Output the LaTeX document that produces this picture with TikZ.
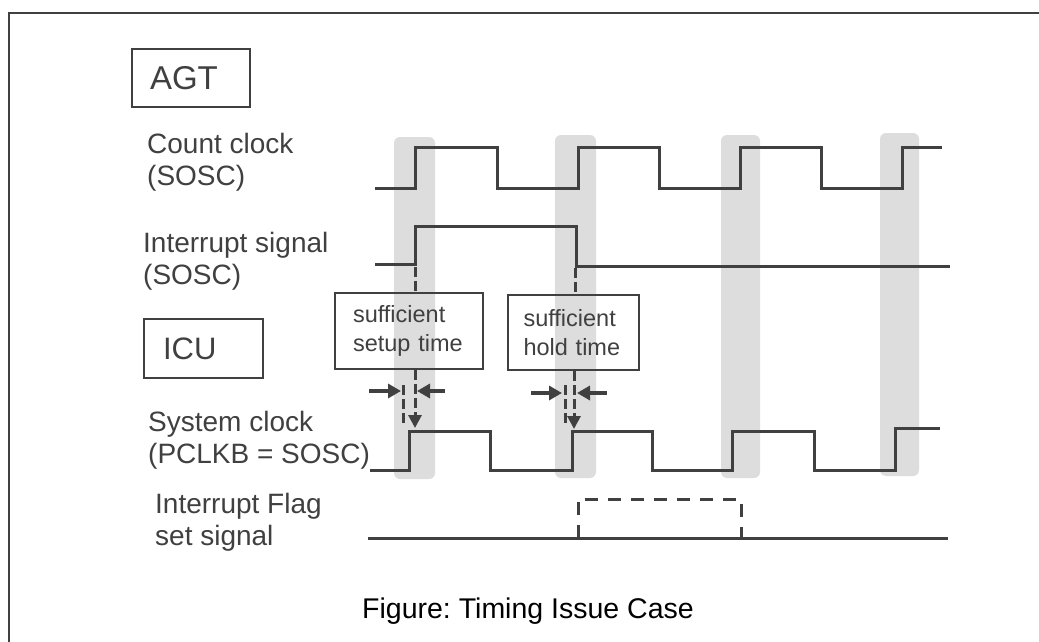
\documentclass[tikz,border=0pt]{standalone}
\usepackage{fontspec}
\setmainfont{Liberation Sans}
\usetikzlibrary{arrows.meta}
\definecolor{ln}{HTML}{404040}
\definecolor{bandcol}{HTML}{DDDDDD}
\frenchspacing
\begin{document}
\begin{tikzpicture}[x=1pt,y=-1pt,
  sig/.style={draw=ln,line width=3pt,line join=miter},
  gband/.style={fill=bandcol,rounded corners=6pt},
  lbl/.style={anchor=base west,inner sep=0pt,text=ln,align=left,font=\fontsize{28}{32}\selectfont},
  bigbox/.style={draw=ln,line width=2pt,anchor=north west,inner ysep=0pt,align=left,text=ln},
  smallbox/.style={draw=ln,line width=2pt,anchor=north west,inner ysep=0pt,align=left,text=ln,font=\fontsize{23.5}{29}\selectfont},
  vdsh/.style={draw=ln,line width=3pt,dash pattern=on 10pt off 4pt},
  tip/.style={-{Triangle[length=13pt,width=13pt]}},
  harr/.style={draw=ln,line width=3.5pt,-{Triangle[length=13pt,width=14pt]}}
]
\useasboundingbox (0,0) rectangle (1039,642);
\fill[white] (0,0) rectangle (1039,642);
\draw[line width=2pt,draw=ln] (9,13) rectangle (1060,660);

% gray bands
\fill[gband] (394,137) rectangle (435,479);
\fill[gband] (555,135) rectangle (596,478);
\fill[gband] (721,135) rectangle (760,478);
\fill[gband] (880,133) rectangle (919,476);

% section boxes
\node[bigbox,minimum width=118pt,minimum height=58pt,inner xsep=18pt,text width=82pt,font=\fontsize{33}{36}\selectfont] (agt) at (131,48) {AGT};
\node[bigbox,minimum width=119pt,minimum height=59pt,inner xsep=19pt,text width=81pt,font=\fontsize{31}{34}\selectfont] (icu) at (143,318) {ICU};

% labels (anchor = baseline of the second line)
\node[lbl] (lcc) at (147,185) {Count clock\\(SOSC)};
\node[lbl] (lis) at (143,284) {Interrupt signal\\(SOSC)};
\node[lbl] (lsc) at (148,463) {System clock\\(PCLKB = SOSC)};
\node[lbl] (lfl) at (155,545) {Interrupt Flag\\set signal};
\node[anchor=base west,inner sep=0pt,font=\fontsize{28.5}{32}\selectfont] (cap) at (362,618) {Figure: Timing Issue Case};

% count clock
\draw[sig] (375,188) -- (415,188) -- (415,147) -- (497,147) -- (497,188) -- (578,188) -- (578,147) -- (659,147) -- (659,188) -- (740,188) -- (740,147) -- (821,147) -- (821,188) -- (902,188) -- (902,147) -- (942,147);
% interrupt signal
\draw[sig] (375,264) -- (415,264) -- (415,226) -- (576,226) -- (576,266) -- (950,266);
% system clock
\draw[sig] (370,470) -- (409,470) -- (409,431) -- (490,431) -- (490,470) -- (572,470) -- (572,431) -- (652,431) -- (652,470) -- (732,470) -- (732,431) -- (814,431) -- (814,470) -- (895,470) -- (895,428) -- (940,428);
% interrupt flag set signal
\draw[sig] (368,538) -- (948,538);
\draw[sig,dash pattern=on 13pt off 10pt] (578,538) -- (578,499) -- (741,499) -- (741,538);

% annotation boxes
\node[smallbox,minimum width=148pt,minimum height=76pt,inner xsep=18pt,text width=112pt] (setup) at (334,292) {sufficient\\setup time};
\node[smallbox,minimum width=131pt,minimum height=75pt,inner xsep=15.5pt,text width=100pt] (hold) at (507,294) {sufficient\\hold time};

% edge coordinates
\coordinate (ie1) at (415,267);
\coordinate (ie2) at (575,268);
\coordinate (se1) at (415,428);
\coordinate (se2) at (574,429);

% setup connectors
\draw[vdsh] (ie1) -- (ie1 |- setup.north);
\draw[vdsh,tip] (ie1 |- setup.south) -- (se1);
\coordinate (l1a) at (403,385);
\coordinate (l1b) at (403,424);
\draw[vdsh] (l1a) -- (l1b);
\coordinate (a1l) at (369,391);
\coordinate (a1lt) at (401,391);
\coordinate (a1r) at (445,391);
\coordinate (a1rt) at (417,391);
\draw[harr] (a1l) -- (a1lt);
\draw[harr] (a1r) -- (a1rt);

% hold connectors
\draw[vdsh] (ie2) -- (ie2 |- hold.north);
\draw[vdsh,tip] (se2 |- hold.south) -- (se2);
\coordinate (l2a) at (565,385);
\coordinate (l2b) at (565,425);
\draw[vdsh] (l2a) -- (l2b);
\coordinate (a2l) at (531,393);
\coordinate (a2lt) at (562,393);
\coordinate (a2r) at (607,393);
\coordinate (a2rt) at (577,393);
\draw[harr] (a2l) -- (a2lt);
\draw[harr] (a2r) -- (a2rt);
\end{tikzpicture}
\end{document}
